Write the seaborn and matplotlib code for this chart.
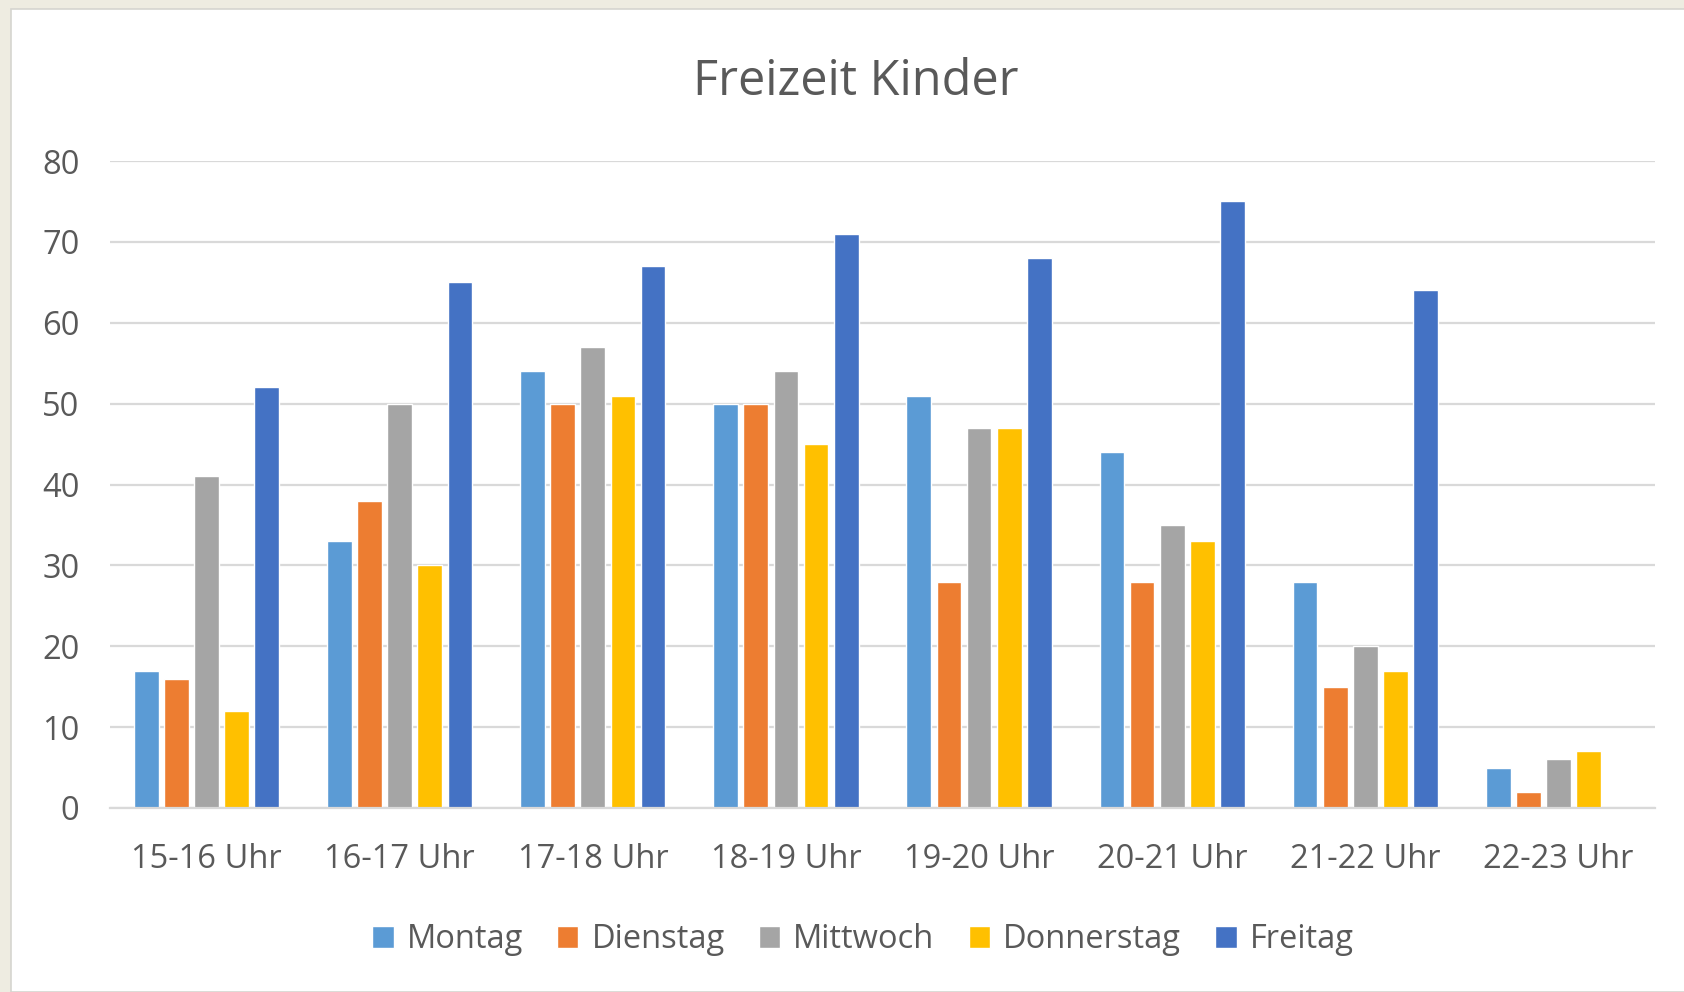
import pandas as pd
import numpy as np
import seaborn as sns
import matplotlib.pyplot as plt
from matplotlib.patches import Rectangle

zeiten = ['15-16 Uhr', '16-17 Uhr', '17-18 Uhr', '18-19 Uhr',
          '19-20 Uhr', '20-21 Uhr', '21-22 Uhr', '22-23 Uhr']
tage = ['Montag', 'Dienstag', 'Mittwoch', 'Donnerstag', 'Freitag']

montag = [17, 33, 54, 50, 51, 44, 28, 5]
dienstag = [16, 38, 50, 50, 28, 28, 15, 2]
mittwoch = [41, 50, 57, 54, 47, 35, 20, 6]
donnerstag = [12, 30, 51, 45, 47, 33, 17, 7]
freitag = [52, 65, 67, 71, 68, 75, 64, 0]

farben = ['#5B9BD5', '#ED7D31', '#A5A5A5', '#FFC000', '#4472C4']

# long format for seaborn
werte = [montag, dienstag, mittwoch, donnerstag, freitag]
df = pd.DataFrame({
    'Zeit': zeiten * len(tage),
    'Tag': np.repeat(tage, len(zeiten)),
    'Wert': np.concatenate(werte),
})

sns.set_style('white')
plt.rcParams['font.family'] = ['Open Sans', 'DejaVu Sans']
grau = '#595959'

fig = plt.figure(figsize=(16.84, 9.92), dpi=100, facecolor='#EEECE1')
# white chart area with the beige frame top/left
fig.patches.append(Rectangle((11 / 1684, 0), 1, 1 - 9 / 992, transform=fig.transFigure,
                             facecolor='white', edgecolor='#D5D5D0', linewidth=1.2, zorder=-1))

ax = fig.add_axes([110 / 1684, 1 - 808 / 992, 1545 / 1684, (808 - 161) / 992])
ax.set_facecolor('none')

sns.barplot(data=df, x='Zeit', y='Wert', hue='Tag', hue_order=tage, order=zeiten,
            palette=farben, width=0.78, gap=0.18, saturation=1, ax=ax, zorder=3,
            legend=True)

ax.set_xlim(-0.5, 7.5)
ax.set_ylim(0, 80)
ax.set_yticks(range(0, 81, 10))
ax.yaxis.grid(True, color='#D9D9D9', linewidth=1.6, zorder=0)
ax.set_axisbelow(True)
for s in ['top', 'right', 'left']:
    ax.spines[s].set_visible(False)
ax.spines['bottom'].set_color('#D9D9D9')
ax.spines['bottom'].set_linewidth(1.6)
ax.spines['bottom'].set_zorder(4)
ax.tick_params(axis='both', length=0, labelsize=23.5, colors=grau)
ax.tick_params(axis='y', pad=22)
ax.tick_params(axis='x', pad=25)
ax.set_xlabel('')
ax.set_ylabel('')

handles, labels = ax.get_legend_handles_labels()
ax.get_legend().remove()
fig.legend(handles, labels, loc='center', bbox_to_anchor=(863 / 1684, 1 - 940 / 992), ncol=5,
           frameon=False, fontsize=23.5, labelcolor=grau, handlelength=0.65, handleheight=0.65,
           handletextpad=0.4, columnspacing=1.05)

fig.text(856 / 1684, 1 - 82 / 992, 'Freizeit Kinder', ha='center', va='center',
         fontsize=35, color=grau)

fig.savefig('out.png', dpi=100, facecolor=fig.get_facecolor())
